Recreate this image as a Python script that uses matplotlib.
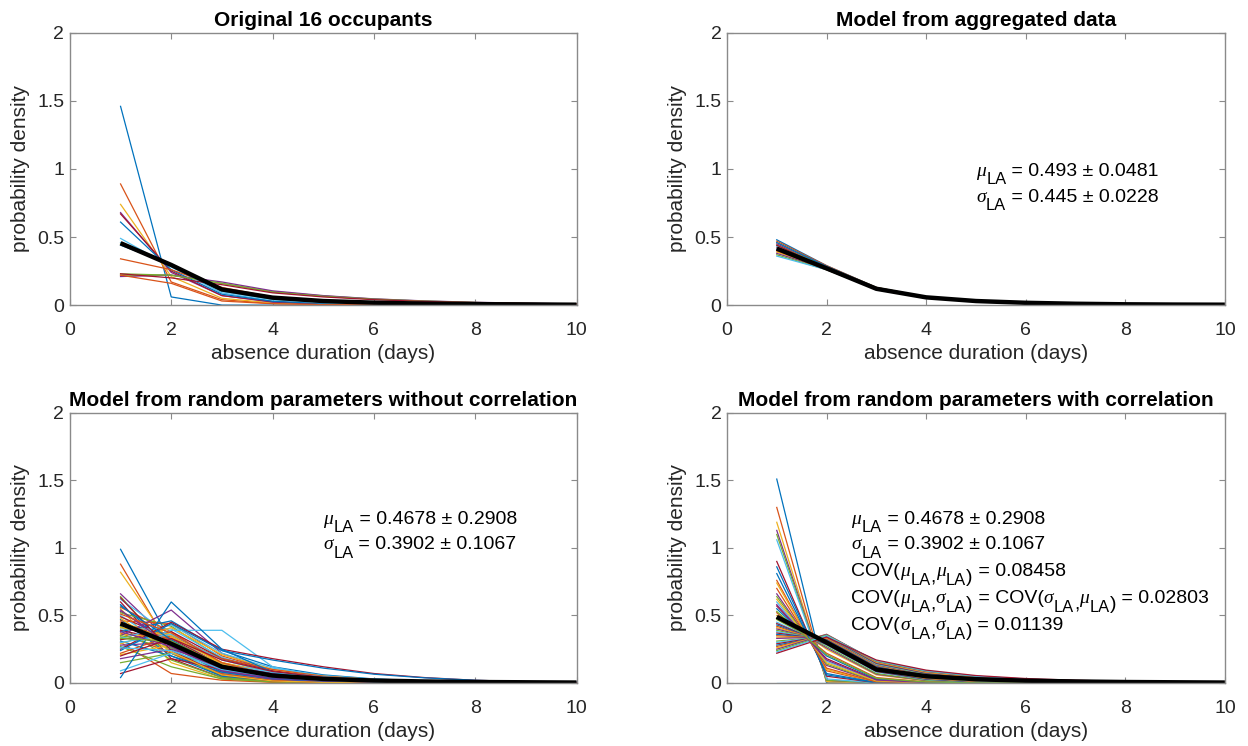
import matplotlib
matplotlib.use("Agg")
import matplotlib.pyplot as plt
from matplotlib.transforms import IdentityTransform

plt.rcParams['font.family'] = ['Liberation Sans', 'DejaVu Sans']

days = [1, 2, 3, 4, 5, 6, 7, 8, 9, 10]

titles = ["Original 16 occupants", "Model from aggregated data",
          "Model from random parameters without correlation",
          "Model from random parameters with correlation"]
xlabel_text = "absence duration (days)"
ylabel_text = "probability density"
yticks = [0, 0.5, 1, 1.5, 2]
yticklabels = ["0", "0.5", "1", "1.5", "2"]
xticks = [0, 2, 4, 6, 8, 10]

# Panel 1: original 16 occupants
occupants = [
    [1.46, 0.06, 0.00, 0.00, 0.00, 0.000, 0.000, 0.000, 0.000, 0.000],
    [0.89, 0.17, 0.04, 0.012, 0.005, 0.002, 0.001, 0.000, 0.000, 0.000],
    [0.74, 0.21, 0.05, 0.016, 0.006, 0.003, 0.001, 0.001, 0.000, 0.000],
    [0.68, 0.24, 0.07, 0.022, 0.008, 0.004, 0.002, 0.001, 0.000, 0.000],
    [0.23, 0.22, 0.16, 0.100, 0.068, 0.045, 0.030, 0.020, 0.013, 0.009],
    [0.49, 0.28, 0.09, 0.030, 0.012, 0.005, 0.002, 0.001, 0.000, 0.000],
    [0.67, 0.25, 0.07, 0.025, 0.010, 0.004, 0.002, 0.001, 0.000, 0.000],
    [0.61, 0.26, 0.08, 0.028, 0.011, 0.005, 0.002, 0.001, 0.000, 0.000],
    [0.34, 0.26, 0.13, 0.060, 0.030, 0.016, 0.009, 0.005, 0.003, 0.002],
    [0.45, 0.29, 0.11, 0.045, 0.020, 0.010, 0.005, 0.003, 0.002, 0.001],
    [0.21, 0.22, 0.17, 0.105, 0.070, 0.046, 0.031, 0.021, 0.014, 0.009],
    [0.22, 0.22, 0.16, 0.095, 0.065, 0.043, 0.029, 0.019, 0.012, 0.008],
    [0.46, 0.29, 0.10, 0.040, 0.017, 0.008, 0.004, 0.002, 0.001, 0.000],
    [0.23, 0.20, 0.15, 0.090, 0.060, 0.040, 0.027, 0.018, 0.012, 0.008],
    [0.44, 0.30, 0.12, 0.050, 0.022, 0.011, 0.006, 0.003, 0.002, 0.001],
    [0.22, 0.16, 0.03, 0.010, 0.004, 0.002, 0.001, 0.000, 0.000, 0.000],
]
occupants_mean = [0.455, 0.295, 0.115, 0.055, 0.030, 0.018, 0.011, 0.007, 0.005, 0.003]

# Panel 2: model from aggregated data
aggregated = [
    [0.48, 0.29, 0.13, 0.060, 0.030, 0.016, 0.009, 0.005, 0.003, 0.002],
    [0.47, 0.29, 0.13, 0.059, 0.030, 0.016, 0.009, 0.005, 0.003, 0.002],
    [0.46, 0.28, 0.13, 0.059, 0.030, 0.016, 0.009, 0.005, 0.003, 0.002],
    [0.45, 0.28, 0.125, 0.058, 0.029, 0.016, 0.009, 0.005, 0.003, 0.002],
    [0.44, 0.28, 0.125, 0.058, 0.029, 0.016, 0.009, 0.005, 0.003, 0.002],
    [0.43, 0.275, 0.124, 0.057, 0.029, 0.016, 0.009, 0.005, 0.003, 0.002],
    [0.42, 0.27, 0.123, 0.057, 0.029, 0.016, 0.009, 0.005, 0.003, 0.002],
    [0.41, 0.27, 0.122, 0.057, 0.029, 0.016, 0.009, 0.005, 0.003, 0.002],
    [0.40, 0.27, 0.122, 0.056, 0.029, 0.016, 0.009, 0.005, 0.003, 0.002],
    [0.39, 0.265, 0.121, 0.056, 0.029, 0.016, 0.009, 0.005, 0.003, 0.002],
    [0.38, 0.265, 0.12, 0.056, 0.029, 0.016, 0.009, 0.005, 0.003, 0.002],
    [0.37, 0.26, 0.12, 0.055, 0.028, 0.016, 0.009, 0.005, 0.003, 0.002],
    [0.36, 0.26, 0.12, 0.055, 0.028, 0.016, 0.009, 0.005, 0.003, 0.002],
    [0.44, 0.27, 0.12, 0.056, 0.029, 0.016, 0.009, 0.005, 0.003, 0.002],
    [0.46, 0.285, 0.128, 0.059, 0.030, 0.016, 0.009, 0.005, 0.003, 0.002],
    [0.40, 0.26, 0.118, 0.055, 0.028, 0.016, 0.009, 0.005, 0.003, 0.002],
]
aggregated_mean = [0.415, 0.27, 0.12, 0.057, 0.030, 0.017, 0.010, 0.006, 0.004, 0.003]

# Panel 3: random parameters without correlation
uncorrelated = [
    [0.99, 0.30, 0.06, 0.015, 0.004, 0.001, 0.000, 0.000, 0.000, 0.000],
    [0.88, 0.25, 0.05, 0.012, 0.003, 0.001, 0.000, 0.000, 0.000, 0.000],
    [0.82, 0.28, 0.07, 0.020, 0.006, 0.002, 0.001, 0.000, 0.000, 0.000],
    [0.66, 0.30, 0.09, 0.030, 0.010, 0.004, 0.002, 0.001, 0.000, 0.000],
    [0.64, 0.22, 0.05, 0.010, 0.003, 0.001, 0.000, 0.000, 0.000, 0.000],
    [0.62, 0.35, 0.12, 0.040, 0.015, 0.006, 0.002, 0.001, 0.000, 0.000],
    [0.60, 0.18, 0.04, 0.008, 0.002, 0.001, 0.000, 0.000, 0.000, 0.000],
    [0.58, 0.27, 0.08, 0.025, 0.008, 0.003, 0.001, 0.000, 0.000, 0.000],
    [0.56, 0.38, 0.14, 0.050, 0.020, 0.008, 0.003, 0.001, 0.000, 0.000],
    [0.55, 0.15, 0.03, 0.006, 0.002, 0.000, 0.000, 0.000, 0.000, 0.000],
    [0.53, 0.30, 0.10, 0.035, 0.012, 0.005, 0.002, 0.001, 0.000, 0.000],
    [0.52, 0.42, 0.18, 0.070, 0.030, 0.012, 0.005, 0.002, 0.001, 0.000],
    [0.50, 0.25, 0.07, 0.020, 0.006, 0.002, 0.001, 0.000, 0.000, 0.000],
    [0.49, 0.33, 0.13, 0.050, 0.020, 0.008, 0.003, 0.001, 0.000, 0.000],
    [0.47, 0.20, 0.05, 0.012, 0.003, 0.001, 0.000, 0.000, 0.000, 0.000],
    [0.46, 0.44, 0.20, 0.090, 0.040, 0.018, 0.008, 0.004, 0.002, 0.001],
    [0.44, 0.36, 0.15, 0.060, 0.025, 0.010, 0.004, 0.002, 0.001, 0.000],
    [0.43, 0.28, 0.09, 0.030, 0.010, 0.004, 0.002, 0.001, 0.000, 0.000],
    [0.42, 0.17, 0.04, 0.010, 0.003, 0.001, 0.000, 0.000, 0.000, 0.000],
    [0.40, 0.40, 0.19, 0.080, 0.035, 0.015, 0.007, 0.003, 0.001, 0.001],
    [0.39, 0.31, 0.12, 0.045, 0.018, 0.007, 0.003, 0.001, 0.000, 0.000],
    [0.38, 0.46, 0.24, 0.120, 0.060, 0.030, 0.015, 0.008, 0.004, 0.002],
    [0.37, 0.22, 0.07, 0.020, 0.006, 0.002, 0.001, 0.000, 0.000, 0.000],
    [0.36, 0.34, 0.15, 0.070, 0.030, 0.014, 0.006, 0.003, 0.001, 0.001],
    [0.35, 0.54, 0.22, 0.080, 0.030, 0.012, 0.005, 0.002, 0.001, 0.000],
    [0.34, 0.26, 0.10, 0.040, 0.016, 0.007, 0.003, 0.001, 0.000, 0.000],
    [0.33, 0.43, 0.22, 0.110, 0.055, 0.028, 0.014, 0.007, 0.004, 0.002],
    [0.32, 0.38, 0.18, 0.090, 0.045, 0.022, 0.011, 0.006, 0.003, 0.002],
    [0.31, 0.20, 0.08, 0.030, 0.012, 0.005, 0.002, 0.001, 0.000, 0.000],
    [0.30, 0.07, 0.02, 0.005, 0.001, 0.000, 0.000, 0.000, 0.000, 0.000],
    [0.29, 0.41, 0.21, 0.100, 0.050, 0.025, 0.012, 0.006, 0.003, 0.002],
    [0.28, 0.30, 0.14, 0.070, 0.035, 0.017, 0.008, 0.004, 0.002, 0.001],
    [0.27, 0.12, 0.03, 0.008, 0.002, 0.001, 0.000, 0.000, 0.000, 0.000],
    [0.26, 0.39, 0.39, 0.120, 0.040, 0.015, 0.006, 0.002, 0.001, 0.000],
    [0.25, 0.45, 0.25, 0.180, 0.120, 0.070, 0.040, 0.020, 0.010, 0.005],
    [0.24, 0.44, 0.24, 0.170, 0.110, 0.065, 0.038, 0.020, 0.010, 0.005],
    [0.22, 0.35, 0.18, 0.100, 0.050, 0.025, 0.012, 0.006, 0.003, 0.002],
    [0.21, 0.28, 0.15, 0.080, 0.040, 0.020, 0.010, 0.005, 0.003, 0.001],
    [0.18, 0.25, 0.13, 0.070, 0.035, 0.018, 0.009, 0.005, 0.002, 0.001],
    [0.15, 0.22, 0.12, 0.060, 0.030, 0.015, 0.008, 0.004, 0.002, 0.001],
    [0.09, 0.22, 0.14, 0.080, 0.045, 0.025, 0.013, 0.007, 0.004, 0.002],
    [0.07, 0.18, 0.10, 0.050, 0.025, 0.012, 0.006, 0.003, 0.002, 0.001],
    [0.04, 0.60, 0.25, 0.080, 0.020, 0.006, 0.002, 0.001, 0.000, 0.000],
    [0.45, 0.32, 0.12, 0.045, 0.018, 0.007, 0.003, 0.001, 0.000, 0.000],
    [0.41, 0.35, 0.14, 0.055, 0.022, 0.009, 0.004, 0.002, 0.001, 0.000],
    [0.54, 0.27, 0.09, 0.030, 0.010, 0.004, 0.002, 0.001, 0.000, 0.000],
    [0.35, 0.29, 0.11, 0.045, 0.018, 0.008, 0.003, 0.001, 0.000, 0.000],
    [0.30, 0.36, 0.17, 0.080, 0.038, 0.018, 0.009, 0.004, 0.002, 0.001],
    [0.63, 0.24, 0.06, 0.015, 0.004, 0.001, 0.000, 0.000, 0.000, 0.000],
    [0.57, 0.32, 0.11, 0.035, 0.012, 0.004, 0.002, 0.001, 0.000, 0.000],
    [0.51, 0.37, 0.15, 0.055, 0.022, 0.009, 0.004, 0.002, 0.001, 0.000],
    [0.48, 0.23, 0.06, 0.015, 0.004, 0.001, 0.000, 0.000, 0.000, 0.000],
    [0.38, 0.27, 0.10, 0.038, 0.015, 0.006, 0.002, 0.001, 0.000, 0.000],
    [0.33, 0.31, 0.13, 0.055, 0.024, 0.010, 0.004, 0.002, 0.001, 0.000],
    [0.26, 0.24, 0.10, 0.045, 0.020, 0.009, 0.004, 0.002, 0.001, 0.000],
    [0.20, 0.33, 0.17, 0.085, 0.042, 0.021, 0.010, 0.005, 0.003, 0.001],
]
uncorrelated_mean = [0.44, 0.29, 0.12, 0.055, 0.030, 0.018, 0.011, 0.007, 0.005, 0.003]

# Panel 4: random parameters with correlation
correlated = [
    [1.51, 0.00, 0.000, 0.000, 0.000, 0.000, 0.000, 0.000, 0.000, 0.000],
    [1.30, 0.01, 0.000, 0.000, 0.000, 0.000, 0.000, 0.000, 0.000, 0.000],
    [1.19, 0.01, 0.000, 0.000, 0.000, 0.000, 0.000, 0.000, 0.000, 0.000],
    [1.13, 0.02, 0.000, 0.000, 0.000, 0.000, 0.000, 0.000, 0.000, 0.000],
    [1.10, 0.02, 0.001, 0.000, 0.000, 0.000, 0.000, 0.000, 0.000, 0.000],
    [1.06, 0.03, 0.001, 0.000, 0.000, 0.000, 0.000, 0.000, 0.000, 0.000],
    [0.90, 0.05, 0.002, 0.000, 0.000, 0.000, 0.000, 0.000, 0.000, 0.000],
    [0.86, 0.06, 0.003, 0.000, 0.000, 0.000, 0.000, 0.000, 0.000, 0.000],
    [0.76, 0.09, 0.005, 0.000, 0.000, 0.000, 0.000, 0.000, 0.000, 0.000],
    [0.74, 0.10, 0.006, 0.001, 0.000, 0.000, 0.000, 0.000, 0.000, 0.000],
    [0.66, 0.13, 0.010, 0.001, 0.000, 0.000, 0.000, 0.000, 0.000, 0.000],
    [0.64, 0.14, 0.012, 0.002, 0.000, 0.000, 0.000, 0.000, 0.000, 0.000],
    [0.60, 0.16, 0.020, 0.003, 0.001, 0.000, 0.000, 0.000, 0.000, 0.000],
    [0.57, 0.18, 0.025, 0.004, 0.001, 0.000, 0.000, 0.000, 0.000, 0.000],
    [0.55, 0.20, 0.030, 0.006, 0.001, 0.000, 0.000, 0.000, 0.000, 0.000],
    [0.52, 0.22, 0.040, 0.008, 0.002, 0.000, 0.000, 0.000, 0.000, 0.000],
    [0.50, 0.25, 0.060, 0.015, 0.004, 0.001, 0.000, 0.000, 0.000, 0.000],
    [0.48, 0.26, 0.065, 0.018, 0.005, 0.002, 0.000, 0.000, 0.000, 0.000],
    [0.47, 0.27, 0.070, 0.020, 0.006, 0.002, 0.001, 0.000, 0.000, 0.000],
    [0.45, 0.28, 0.080, 0.025, 0.008, 0.003, 0.001, 0.000, 0.000, 0.000],
    [0.44, 0.285, 0.085, 0.028, 0.009, 0.003, 0.001, 0.000, 0.000, 0.000],
    [0.43, 0.29, 0.090, 0.030, 0.010, 0.004, 0.002, 0.001, 0.000, 0.000],
    [0.42, 0.295, 0.095, 0.033, 0.012, 0.004, 0.002, 0.001, 0.000, 0.000],
    [0.41, 0.30, 0.100, 0.035, 0.013, 0.005, 0.002, 0.001, 0.000, 0.000],
    [0.40, 0.305, 0.105, 0.038, 0.015, 0.006, 0.002, 0.001, 0.000, 0.000],
    [0.39, 0.31, 0.110, 0.040, 0.016, 0.007, 0.003, 0.002, 0.001, 0.000],
    [0.38, 0.315, 0.115, 0.045, 0.018, 0.008, 0.003, 0.002, 0.001, 0.000],
    [0.37, 0.32, 0.120, 0.050, 0.020, 0.009, 0.004, 0.002, 0.001, 0.000],
    [0.36, 0.325, 0.125, 0.052, 0.022, 0.010, 0.005, 0.002, 0.001, 0.001],
    [0.35, 0.33, 0.130, 0.055, 0.025, 0.012, 0.006, 0.003, 0.002, 0.001],
    [0.34, 0.335, 0.132, 0.058, 0.028, 0.013, 0.007, 0.003, 0.002, 0.001],
    [0.33, 0.34, 0.135, 0.060, 0.030, 0.015, 0.008, 0.004, 0.002, 0.001],
    [0.31, 0.345, 0.138, 0.065, 0.032, 0.016, 0.009, 0.005, 0.003, 0.002],
    [0.30, 0.35, 0.140, 0.070, 0.035, 0.018, 0.010, 0.006, 0.003, 0.002],
    [0.29, 0.35, 0.145, 0.072, 0.038, 0.020, 0.011, 0.006, 0.004, 0.002],
    [0.28, 0.35, 0.150, 0.075, 0.040, 0.022, 0.012, 0.007, 0.004, 0.002],
    [0.27, 0.355, 0.152, 0.078, 0.042, 0.024, 0.013, 0.008, 0.005, 0.003],
    [0.26, 0.36, 0.155, 0.080, 0.045, 0.025, 0.014, 0.008, 0.005, 0.003],
    [0.25, 0.36, 0.160, 0.085, 0.048, 0.028, 0.016, 0.010, 0.006, 0.004],
    [0.24, 0.355, 0.162, 0.088, 0.050, 0.029, 0.017, 0.010, 0.006, 0.004],
    [0.23, 0.35, 0.165, 0.090, 0.050, 0.030, 0.018, 0.011, 0.007, 0.004],
    [0.22, 0.34, 0.170, 0.095, 0.055, 0.033, 0.020, 0.012, 0.008, 0.005],
    [0.81, 0.07, 0.004, 0.000, 0.000, 0.000, 0.000, 0.000, 0.000, 0.000],
    [0.70, 0.11, 0.008, 0.001, 0.000, 0.000, 0.000, 0.000, 0.000, 0.000],
    [0.62, 0.15, 0.015, 0.002, 0.000, 0.000, 0.000, 0.000, 0.000, 0.000],
    [0.58, 0.17, 0.022, 0.003, 0.001, 0.000, 0.000, 0.000, 0.000, 0.000],
    [0.53, 0.21, 0.035, 0.007, 0.001, 0.000, 0.000, 0.000, 0.000, 0.000],
    [0.00, 0.00, 0.000, 0.000, 0.000, 0.000, 0.000, 0.000, 0.000, 0.000],
]
correlated_mean = [0.49, 0.30, 0.10, 0.050, 0.028, 0.017, 0.011, 0.007, 0.005, 0.003]

# Annotation texts: segments of (text, kind) where kind is
# 'n' normal, 'g' greek italic, 's' subscript, 'l' lowered normal
notes_aggregated = [
    [("μ", "g"), ("LA", "s"), (" = 0.493 ± 0.0481", "n")],
    [("σ", "g"), ("LA", "s"), (" = 0.445 ± 0.0228", "n")],
]
notes_uncorrelated = [
    [("μ", "g"), ("LA", "s"), (" = 0.4678 ± 0.2908", "n")],
    [("σ", "g"), ("LA", "s"), (" = 0.3902 ± 0.1067", "n")],
]
notes_correlated = [
    [("μ", "g"), ("LA", "s"), (" = 0.4678 ± 0.2908", "n")],
    [("σ", "g"), ("LA", "s"), (" = 0.3902 ± 0.1067", "n")],
    [("COV(", "n"), ("μ", "g"), ("LA", "s"), (",", "l"), ("μ", "g"), ("LA", "s"),
     (")", "l"), (" = 0.08458", "n")],
    [("COV(", "n"), ("μ", "g"), ("LA", "s"), (",", "l"), ("σ", "g"), ("LA", "s"),
     (")", "l"), (" = COV(", "n"), ("σ", "g"), ("LA", "s"), (",", "l"), ("μ", "g"),
     ("LA", "s"), (")", "l"), (" = 0.02803", "n")],
    [("COV(", "n"), ("σ", "g"), ("LA", "s"), (",", "l"), ("σ", "g"), ("LA", "s"),
     (")", "l"), (" = 0.01139", "n")],
]

matlab_colors = ['#0072BD', '#D95319', '#EDB120', '#7E2F8E',
                 '#77AC30', '#4DBEEE', '#A2142F']

DPI = 100
fig = plt.figure(figsize=(12.48, 7.46), dpi=DPI)
renderer = fig.canvas.get_renderer()

positions = [
    [0.056, 0.591, 0.406, 0.365],
    [0.5825, 0.591, 0.399, 0.365],
    [0.056, 0.0845, 0.406, 0.362],
    [0.5825, 0.0845, 0.399, 0.362],
]
panels = [(occupants, occupants_mean, None, None),
          (aggregated, aggregated_mean, notes_aggregated, (5.0, [1.0, 0.81])),
          (uncorrelated, uncorrelated_mean, notes_uncorrelated, (5.0, [1.23, 1.04])),
          (correlated, correlated_mean, notes_correlated, (2.5, [1.23, 1.04, 0.84, 0.64, 0.44]))]

axis_grey = '#8a8a8a'
text_col = '#262626'
NOTE_FS = 14


def rich_line(ax, x, y, segments, fs):
    px, py = ax.transData.transform((x, y))
    fs_px = fs * DPI / 72.0
    cur = px
    for s, kind in segments:
        kw = dict(fontsize=fs, color='black', va='baseline', ha='left',
                  transform=IdentityTransform())
        dy = 0.0
        if kind == 'g':
            kw.update(family=['Liberation Serif', 'DejaVu Serif'], style='italic')
        elif kind == 's':
            kw.update(fontsize=fs * 0.85)
            dy = -0.42 * fs_px
        elif kind == 'l':
            dy = -0.30 * fs_px
        t = fig.text(cur, py - 0.35 * fs_px + dy, s, **kw)
        bb = t.get_window_extent(renderer)
        cur = bb.x1 + (0.5 if kind == 'g' else 0.0)


for i, (lines, mean, notes, pos) in enumerate(panels):
    ax = fig.add_axes(positions[i])
    for j, row in enumerate(lines):
        ax.plot(days, row, color=matlab_colors[j % 7], lw=0.9, solid_joinstyle='round')
    ax.plot(days, mean, color='black', lw=3.2, solid_capstyle='butt')
    ax.set_xlim(0, 10)
    ax.set_ylim(0, 2)
    ax.set_xticks(xticks)
    ax.set_yticks(yticks)
    ax.set_yticklabels(yticklabels)
    ax.tick_params(direction='in', top=True, right=True, length=4,
                   color=axis_grey, labelcolor=text_col, labelsize=14)
    ax.tick_params(axis='x', pad=12)
    ax.tick_params(axis='y', pad=4)
    for s in ax.spines.values():
        s.set_color(axis_grey)
        s.set_linewidth(1.0)
    ax.set_xlabel(xlabel_text, fontsize=15, color=text_col, labelpad=4)
    ax.set_ylabel(ylabel_text, fontsize=15, color=text_col, labelpad=5)
    ax.set_title(titles[i], fontsize=15, fontweight='bold', color='black', pad=5)
    if notes is not None:
        x0, ys = pos
        for segs, yv in zip(notes, ys):
            rich_line(ax, x0, yv, segs, NOTE_FS)

fig.savefig('out.png', dpi=DPI)
